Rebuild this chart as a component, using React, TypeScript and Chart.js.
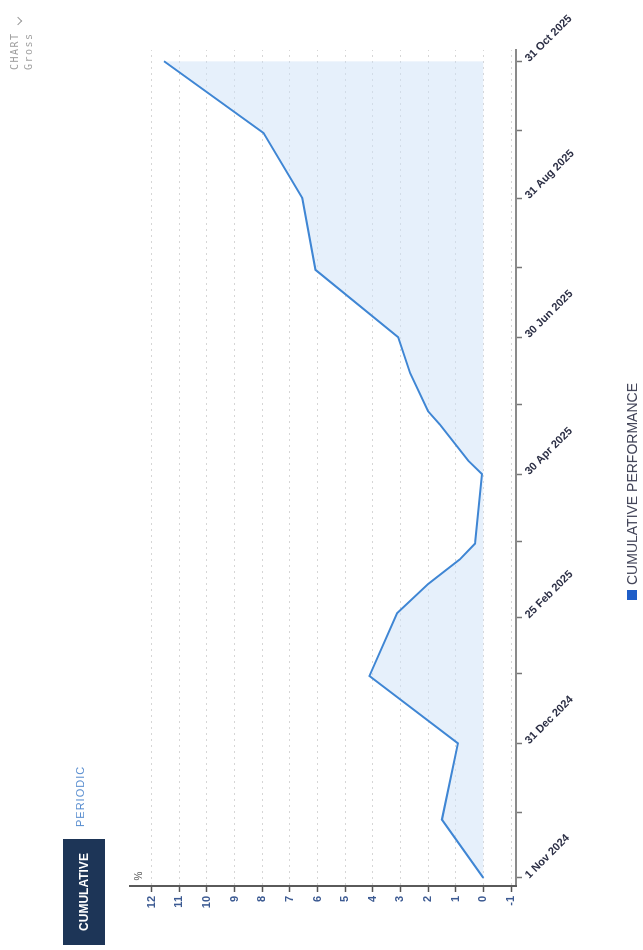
import { useEffect, useRef } from 'react';
import { Chart, registerables } from 'chart.js';

Chart.register(...registerables);

const FONT = "'Liberation Sans', Arial, sans-serif";
const START = Date.UTC(2024, 10, 1);
const DAY = 86400000;

// Observation dates and cumulative performance (%)
const pointDates = [
  '2024-11-01', '2024-11-27', '2024-12-31', '2025-01-30', '2025-02-27', '2025-03-12',
  '2025-03-23', '2025-03-30', '2025-04-30', '2025-05-06', '2025-05-22', '2025-05-28',
  '2025-06-14', '2025-06-30', '2025-07-30', '2025-08-31', '2025-09-29', '2025-10-31',
];
const cumulative = [
  0, 1.5, 0.92, 4.12, 3.12, 2.0,
  0.85, 0.3, 0.05, 0.55, 1.57, 2.0,
  2.65, 3.08, 6.07, 6.55, 7.95, 11.55,
];

// Ticks on the date axis; every other one is labelled
const tickDates = [
  '2024-11-01', '2024-11-30', '2024-12-31', '2025-01-31', '2025-02-25', '2025-03-31', '2025-04-30',
  '2025-05-31', '2025-06-30', '2025-07-31', '2025-08-31', '2025-09-30', '2025-10-31',
];
const tickLabels = [
  '1 Nov 2024', '', '31 Dec 2024', '', '25 Feb 2025', '', '30 Apr 2025',
  '', '30 Jun 2025', '', '31 Aug 2025', '', '31 Oct 2025',
];

// Percentage ticks on the value axis
const valueTicks = [-1, 0, 1, 2, 3, 4, 5, 6, 7, 8, 9, 10, 11, 12];

const dayOf = (s: string) => {
  const [y, m, d] = s.split('-').map(Number);
  return (Date.UTC(y, m - 1, d) - START) / DAY;
};

// Draws the slanted date labels under the date axis and the "%" unit marker
const axisTextPlugin = {
  id: 'axisText',
  afterDraw(chart: any) {
    const { ctx, scales } = chart;
    const xs = scales.x;
    const ys = scales.y;
    ctx.save();
    ctx.fillStyle = '#2c2f45';
    ctx.font = `bold 11px ${FONT}`;
    ctx.textAlign = 'left';
    ctx.textBaseline = 'middle';
    tickDates.forEach((d, i) => {
      const label = tickLabels[i];
      if (!label) return;
      const px = xs.getPixelForValue(dayOf(d));
      ctx.save();
      ctx.translate(px + 1, xs.top + 11);
      ctx.rotate(Math.PI / 4);
      ctx.fillText(label, 0, 0);
      ctx.restore();
    });
    ctx.fillStyle = '#555';
    ctx.font = `10px ${FONT}`;
    ctx.textAlign = 'center';
    ctx.fillText('%', chart.chartArea.left + 10, ys.getPixelForValue(12.45));
    ctx.restore();
  },
};

export default function App() {
  const canvasRef = useRef<HTMLCanvasElement>(null);

  useEffect(() => {
    const canvas = canvasRef.current;
    if (!canvas) return;
    const chart = new Chart(canvas, {
      type: 'line',
      data: {
        datasets: [
          {
            label: 'CUMULATIVE PERFORMANCE',
            data: pointDates.map((d, i) => ({ x: dayOf(d), y: cumulative[i] })),
            borderColor: '#3f86d4',
            borderWidth: 2,
            backgroundColor: 'rgba(205,225,248,0.5)',
            fill: 'origin',
            pointRadius: 0,
            tension: 0,
          },
        ],
      },
      options: {
        animation: false,
        responsive: false,
        layout: { padding: { top: 130, left: 0, right: 50, bottom: 0 } },
        plugins: {
          legend: { display: false },
          tooltip: { enabled: false },
        },
        scales: {
          x: {
            type: 'linear',
            min: -3.6,
            max: 369,
            afterBuildTicks: (s: any) => {
              s.ticks = tickDates.map((d) => ({ value: dayOf(d) }));
            },
            afterFit: (s: any) => {
              s.height = 127;
            },
            ticks: { display: false },
            grid: { drawOnChartArea: false, drawTicks: true, tickLength: 6, tickColor: '#777', tickWidth: 1.5 },
            border: { color: '#8a8a8a', width: 2 },
          },
          y: {
            min: -1.18,
            max: 12.78,
            afterBuildTicks: (s: any) => {
              s.ticks = valueTicks.map((v) => ({ value: v }));
            },
            afterFit: (s: any) => {
              s.width = 64;
            },
            ticks: {
              color: '#3c5a92',
              font: { size: 11, weight: 'bold', family: FONT },
              padding: 4,
            },
            grid: { color: '#d6d6d6', lineWidth: 1, tickLength: 6, tickColor: '#555', tickWidth: 1.5 },
            border: { color: '#5a5a5a', width: 2, dash: [2, 4] },
          },
        },
      },
      plugins: [axisTextPlugin],
    } as any);
    return () => chart.destroy();
  }, []);

  return (
    <div
      style={{
        position: 'fixed',
        left: 0,
        top: 0,
        width: 950,
        height: 643,
        transformOrigin: '0 0',
        transform: 'translateY(950px) rotate(-90deg)',
        background: '#fff',
        fontFamily: FONT,
      }}
    >
      <canvas
        ref={canvasRef}
        width={950}
        height={643}
        style={{ position: 'absolute', left: 0, top: 0, width: 950, height: 643 }}
      />
      <div
        style={{
          position: 'absolute',
          left: 5,
          top: 63,
          width: 106,
          height: 42,
          background: '#1d3557',
          color: '#fff',
          fontWeight: 'bold',
          fontSize: 12,
          display: 'flex',
          alignItems: 'center',
          justifyContent: 'center',
        }}
      >
        CUMULATIVE
      </div>
      <div
        style={{
          position: 'absolute',
          left: 123,
          top: 73,
          fontSize: 11,
          letterSpacing: 1,
          color: '#5b8fd0',
          lineHeight: '14px',
        }}
      >
        PERIODIC
      </div>
      <div
        style={{
          position: 'absolute',
          left: 880,
          top: 8,
          fontFamily: "'DejaVu Sans Mono', monospace",
          fontSize: 10,
          letterSpacing: 1.5,
          color: '#a0a0a0',
          lineHeight: '14px',
        }}
      >
        <div style={{ display: 'flex', alignItems: 'center' }}>
          CHART
          <span
            style={{
              display: 'inline-block',
              width: 5,
              height: 5,
              borderRight: '1.5px solid #9a9a9a',
              borderBottom: '1.5px solid #9a9a9a',
              transform: 'rotate(45deg)',
              marginLeft: 8,
              marginTop: 6,
            }}
          />
        </div>
        <div>Gross</div>
      </div>
      <div
        style={{
          position: 'absolute',
          left: 350,
          top: 624,
          display: 'flex',
          alignItems: 'center',
          fontSize: 14,
          color: '#44465a',
          lineHeight: '16px',
          whiteSpace: 'nowrap',
        }}
      >
        <span style={{ display: 'inline-block', width: 10, height: 10, background: '#1f5ec8', marginRight: 5 }} />
        CUMULATIVE PERFORMANCE
      </div>
    </div>
  );
}
